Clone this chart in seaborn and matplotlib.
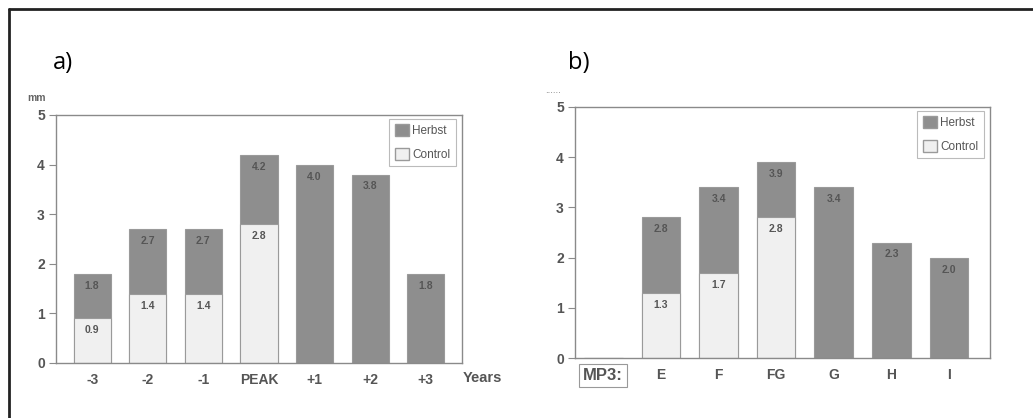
import numpy as np
import pandas as pd
import matplotlib.pyplot as plt
from matplotlib.patches import Patch
from matplotlib.lines import Line2D
import seaborn as sns

# data
years = ['-3', '-2', '-1', 'PEAK', '+1', '+2', '+3']
herbst_a = [1.8, 2.7, 2.7, 4.2, 4.0, 3.8, 1.8]
control_a = [0.9, 1.4, 1.4, 2.8, 0, 0, 0]

stages = ['MP3:', 'E', 'F', 'FG', 'G', 'H', 'I']
herbst_b = [0, 2.8, 3.4, 3.9, 3.4, 2.3, 2.0]
control_b = [0, 1.3, 1.7, 2.8, 0, 0, 0]

dark = '#8e8e8e'
light = '#f0f0f0'
edge = '#9a9a9a'
txt = '#555555'

sns.set_style('white')
plt.rcParams['font.family'] = ['Liberation Sans', 'DejaVu Sans']

fig = plt.figure(figsize=(10.33, 4.18), dpi=100)
ax_a = fig.add_axes([56 / 1033, 55 / 418, 406 / 1033, 248 / 418])
ax_b = fig.add_axes([575 / 1033, 60 / 418, 415 / 1033, 251 / 418])


def draw_panel(ax, cats, herbst, control, xlim):
    df = pd.DataFrame({'cat': cats, 'herbst': herbst, 'control': control})
    sns.barplot(data=df, x='cat', y='herbst', order=cats, color=dark, saturation=1,
                width=0.67, edgecolor=edge, linewidth=0.8, ax=ax)
    sns.barplot(data=df, x='cat', y='control', order=cats, color=light, saturation=1,
                width=0.67, edgecolor=edge, linewidth=0.8, ax=ax)
    # value labels near the top of each segment
    for cont in ax.containers:
        for bar in cont:
            h = bar.get_height()
            if h > 0:
                ax.annotate(f'{h:.1f}', (bar.get_x() + bar.get_width() / 2, h),
                            xytext=(0, -8.6), textcoords='offset points',
                            ha='center', va='center', fontsize=7.5, fontweight='bold',
                            color=txt)
    ax.set_ylim(0, 5)
    ax.set_xlim(*xlim)
    ax.set_yticks(range(6))
    ax.set_xlabel('')
    ax.set_ylabel('')
    for s in ax.spines.values():
        s.set_color('#8a8a8a')
        s.set_linewidth(1.0)
    ax.tick_params(axis='y', direction='out', length=5, width=0.8, color='#8a8a8a',
                   labelsize=10, labelcolor='#555555', pad=3, left=True)
    ax.tick_params(axis='x', length=0, labelsize=10, labelcolor='#555555', pad=7)
    for lab in ax.get_xticklabels() + ax.get_yticklabels():
        lab.set_fontweight('bold')
    handles = [Patch(facecolor=dark, edgecolor=edge, label='Herbst'),
               Patch(facecolor=light, edgecolor=edge, label='Control')]
    leg = ax.legend(handles=handles, loc='upper right', bbox_to_anchor=(0.985, 0.985),
                    borderaxespad=0, fontsize=8.5, fancybox=False, frameon=True,
                    handlelength=1.2, handleheight=1.2, handletextpad=0.3,
                    labelspacing=0.9, borderpad=0.45, labelcolor='#555555')
    leg.get_frame().set_edgecolor('#aaaaaa')
    leg.get_frame().set_linewidth(0.8)


draw_panel(ax_a, years, herbst_a, control_a, (-0.65, 6.65))
draw_panel(ax_b, stages, herbst_b, control_b, (-0.49, 6.71))

# boxed "MP3:" tick label
mp3 = ax_b.get_xticklabels()[0]
mp3.set_fontsize(12)
mp3.set_bbox(dict(boxstyle='square,pad=0.25', facecolor='white', edgecolor='#999999', linewidth=0.8))

# panel letters and small axis notes
fig.text(53 / 1033, 1 - 63 / 418, 'a)', fontsize=17, family=['Open Sans', 'DejaVu Sans'],
         va='center', ha='left', color='black')
fig.text(568 / 1033, 1 - 63 / 418, 'b)', fontsize=17, family=['Open Sans', 'DejaVu Sans'],
         va='center', ha='left', color='black')
fig.text(27 / 1033, 1 - 98 / 418, 'mm', fontsize=7.5, fontweight='bold', color='#666666',
         va='center', ha='left')
fig.text(545 / 1033, 1 - 90 / 418, '......', fontsize=7, color='#777777',
         va='center', ha='left')
fig.text(482 / 1033, 1 - 378 / 418, 'Years', fontsize=10.5, fontweight='bold',
         color='#555555', va='center', ha='center')

# outer frame (top and left edges)
fig.add_artist(Line2D([9 / 1033, 9 / 1033], [0, 1 - 9 / 418], color='#222222',
                      linewidth=2, transform=fig.transFigure))
fig.add_artist(Line2D([9 / 1033, 1], [1 - 9 / 418, 1 - 9 / 418], color='#222222',
                      linewidth=2, transform=fig.transFigure))

fig.savefig('out.png', dpi=100)
